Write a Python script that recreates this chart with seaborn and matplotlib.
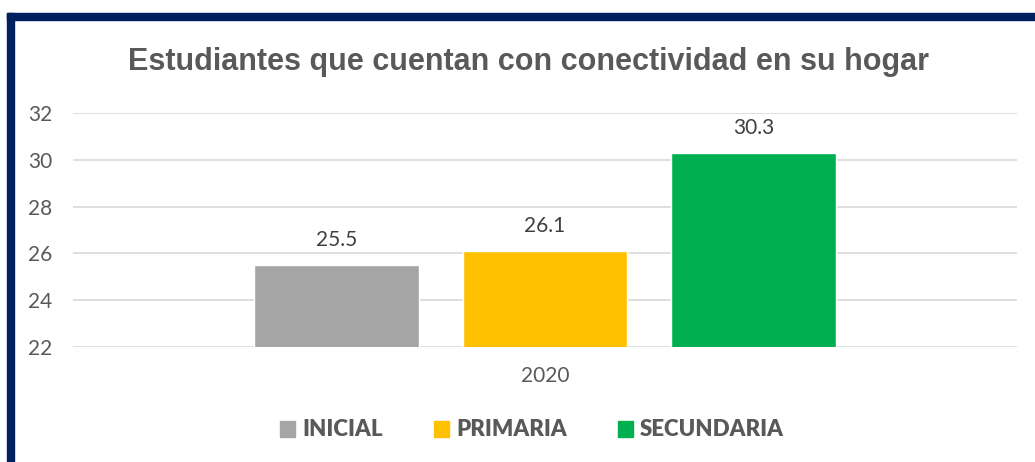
import pandas as pd
import seaborn as sns
import matplotlib.pyplot as plt
from matplotlib.patches import Rectangle

# data
years = ["2020", "2020", "2020"]
levels = ["INICIAL", "PRIMARIA", "SECUNDARIA"]
values = [25.5, 26.1, 30.3]
colors = ["#A5A5A5", "#FFC000", "#00B050"]
yticks = [22, 24, 26, 28, 30, 32]

df = pd.DataFrame({"year": years, "level": levels, "value": values})

sns.set_style("white")
plt.rcParams['font.family'] = ['Lato', 'DejaVu Sans']
txt = "#595959"

fig = plt.figure(figsize=(10.35, 4.62), dpi=100)
ax = fig.add_axes([73/1035, 1-347/462, (1017-73)/1035, (347-113)/462])

sns.barplot(data=df, x="year", y="value", hue="level", palette=colors,
            width=0.663, gap=0.21, ax=ax, legend=False, saturation=1)

for c in ax.containers:
    ax.bar_label(c, labels=[f"{v:.1f}" for v in c.datavalues], padding=11,
                 fontsize=15, color="#404040")

ax.set_ylim(22, 32)
ax.set_yticks(yticks)
ax.yaxis.grid(True, color="#D9D9D9", linewidth=1.2)
ax.set_axisbelow(True)
for s in ax.spines.values():
    s.set_visible(False)
ax.tick_params(axis="both", length=0, labelsize=15, colors=txt)
ax.tick_params(axis="y", pad=15)
ax.tick_params(axis="x", pad=14)
ax.set_xlabel("")
ax.set_ylabel("")

fig.text(529/1035, 1-62/462, "Estudiantes que cuentan con conectividad en su hogar",
         ha="center", va="center", fontsize=22, fontweight="bold", color=txt,
         family="Liberation Sans")

handles = [Rectangle((0, 0), 1, 1, color=c) for c in colors]
leg = fig.legend(handles, levels, loc="center", bbox_to_anchor=(532/1035, 1-430/462),
                 ncol=3, frameon=False, handlelength=0.7, handleheight=0.7,
                 handletextpad=0.3, columnspacing=2.3,
                 prop={"size": 16, "weight": "heavy", "family": "Lato"})
for t in leg.get_texts():
    t.set_color(txt)

# navy frame on left and top
navy = "#002060"
fig.add_artist(Rectangle((7/1035, 0), 7/1035, (462-13)/462, transform=fig.transFigure,
                         color=navy, zorder=10))
fig.add_artist(Rectangle((7/1035, 1-20/462), 1, 7/462, transform=fig.transFigure,
                         color=navy, zorder=10))

fig.savefig("out.png", dpi=100)
